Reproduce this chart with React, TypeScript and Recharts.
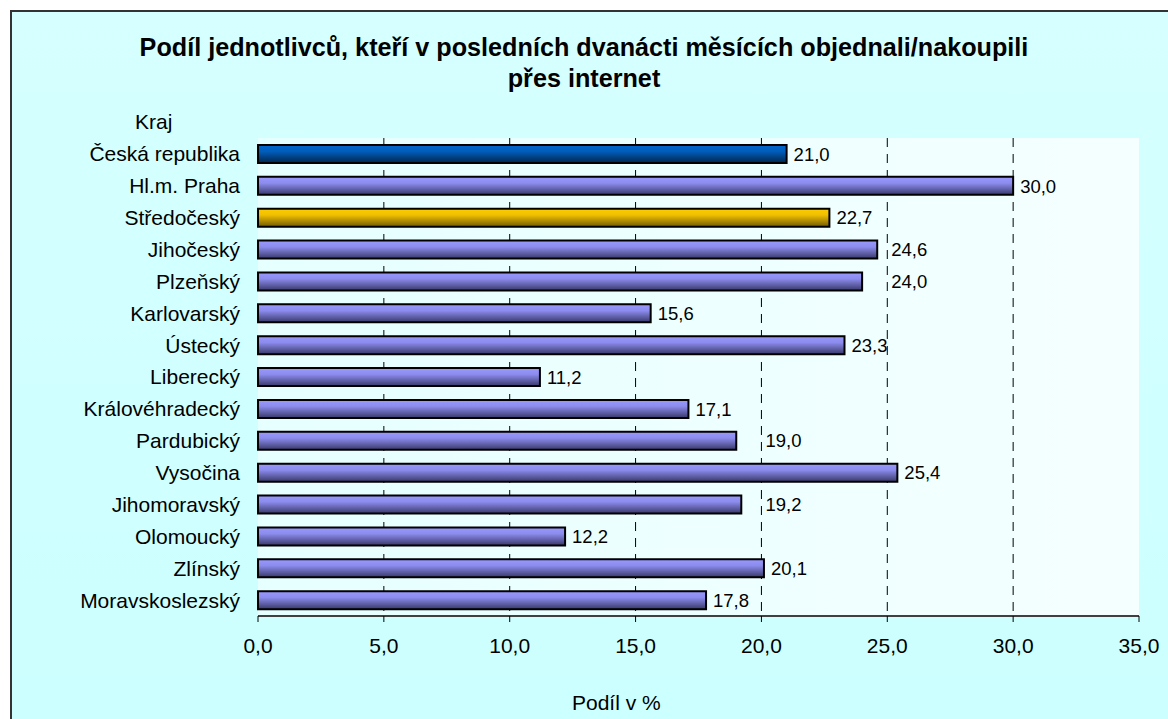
import React from 'react';
import { BarChart, Bar, XAxis, YAxis, CartesianGrid, Cell, LabelList } from 'recharts';

const categories = [
  'Česká republika', 'Hl.m. Praha', 'Středočeský', 'Jihočeský', 'Plzeňský', 'Karlovarský',
  'Ústecký', 'Liberecký', 'Královéhradecký', 'Pardubický', 'Vysočina', 'Jihomoravský',
  'Olomoucký', 'Zlínský', 'Moravskoslezský',
];
const values = [21.0, 30.0, 22.7, 24.6, 24.0, 15.6, 23.3, 11.2, 17.1, 19.0, 25.4, 19.2, 12.2, 20.1, 17.8];
const barKinds = ['cz', 'kraj', 'stc', 'kraj', 'kraj', 'kraj', 'kraj', 'kraj', 'kraj', 'kraj', 'kraj', 'kraj', 'kraj', 'kraj', 'kraj'];
const xTicks = [0, 5, 10, 15, 20, 25, 30, 35];
const gridValues = [5, 10, 15, 20, 25, 30];
const boundaryTicks = [0, 1, 2, 3, 4, 5, 6, 7, 8, 9, 10, 11, 12, 13, 14, 15];
const titleLines = ['Podíl jednotlivců, kteří v posledních dvanácti měsících objednali/nakoupili', 'přes internet'];

const data = categories.map((name, i) => ({ name, value: values[i], kind: barKinds[i] }));
const fillFor: Record<string, string> = { cz: 'url(#gCz)', kraj: 'url(#gKraj)', stc: 'url(#gStc)' };

const FONT = '"Liberation Sans", Arial, sans-serif';
const fmt = (v: number) => v.toFixed(1).replace('.', ',');

const ValueLabel = (props: any) => {
  const { x, y, width, height, value } = props;
  const perUnit = width / value;
  const labelW = 36;
  let start = x + width + 7;
  for (const g of gridValues) {
    const gx = x + g * perUnit;
    if (gx > start - 2 && gx < start + labelW - 3) start = gx + 4;
  }
  return (
    <text x={start} y={y + height / 2} dy="0.36em" fontFamily={FONT} fontSize={18.5} fill="#000">
      {fmt(value)}
    </text>
  );
};

export default function App() {
  return (
    <div style={{ position: 'absolute', left: 0, top: 0, width: 1168, height: 719, background: '#fff', overflow: 'hidden' }}>
      <div
        style={{
          position: 'absolute', left: 10, top: 10, width: 1180, height: 730, boxSizing: 'border-box',
          border: '2px solid #333', background: 'linear-gradient(#D6FFFF, #CCFFFF)',
        }}
      />
      <div style={{ position: 'absolute', left: 0, top: 0 }}>
        <BarChart
          width={1168}
          height={719}
          data={data}
          layout="vertical"
          margin={{ top: 138, right: 29, bottom: 63, left: 10 }}
          barSize={18}
        >
          <defs>
            <linearGradient id="plotBg" x1="0" y1="0" x2="1" y2="0">
              <stop offset="0%" stopColor="#E6FFFF" />
              <stop offset="100%" stopColor="#F5FFFF" />
            </linearGradient>
            <linearGradient id="gKraj" x1="0" y1="0" x2="0" y2="1">
              <stop offset="0%" stopColor="#9999FF" />
              <stop offset="35%" stopColor="#8C8CEE" />
              <stop offset="100%" stopColor="#38386A" />
            </linearGradient>
            <linearGradient id="gCz" x1="0" y1="0" x2="0" y2="1">
              <stop offset="0%" stopColor="#0066CC" />
              <stop offset="35%" stopColor="#005EBC" />
              <stop offset="100%" stopColor="#00264D" />
            </linearGradient>
            <linearGradient id="gStc" x1="0" y1="0" x2="0" y2="1">
              <stop offset="0%" stopColor="#FFCC00" />
              <stop offset="35%" stopColor="#F0BF00" />
              <stop offset="100%" stopColor="#705A00" />
            </linearGradient>
          </defs>
          <CartesianGrid
            horizontal={false}
            verticalValues={gridValues}
            stroke="#000"
            strokeDasharray="9 7"
            fill="url(#plotBg)"
            fillOpacity={1}
          />
          <XAxis
            type="number"
            domain={[0, 35]}
            ticks={xTicks}
            tickFormatter={fmt}
            height={40}
            tickSize={6}
            tickMargin={16}
            interval={0}
            axisLine={{ stroke: '#404040', strokeWidth: 2 }}
            tickLine={{ stroke: '#000' }}
            tick={{ fontFamily: FONT, fontSize: 21, fill: '#000' }}
          />
          <XAxis
            xAxisId="top"
            orientation="top"
            type="number"
            domain={[0, 35]}
            height={0}
            tick={false}
            tickLine={false}
            axisLine={{ stroke: '#888', strokeWidth: 2 }}
          />
          <YAxis
            yAxisId="bounds"
            orientation="left"
            type="number"
            domain={[0, 15]}
            ticks={boundaryTicks}
            interval={0}
            width={0}
            tick={false}
            tickSize={6}
            tickLine={{ stroke: '#000' }}
            axisLine={{ stroke: '#000', strokeWidth: 1 }}
          />
          <YAxis
            type="category"
            dataKey="name"
            width={248}
            interval={0}
            tickSize={0}
            tickMargin={18}
            tickLine={false}
            axisLine={false}
            tick={{ fontFamily: FONT, fontSize: 21, fill: '#000' }}
          />
          <YAxis
            yAxisId="right"
            orientation="right"
            type="number"
            domain={[0, 1]}
            width={0}
            tick={false}
            tickLine={false}
            axisLine={{ stroke: '#888', strokeWidth: 2 }}
          />
          <Bar dataKey="value" stroke="#000" strokeWidth={2} isAnimationActive={false}>
            {data.map((d, i) => (
              <Cell key={i} fill={fillFor[d.kind]} />
            ))}
            <LabelList dataKey="value" content={ValueLabel} />
          </Bar>
        </BarChart>
      </div>
      <svg width={1168} height={719} style={{ position: 'absolute', left: 0, top: 0, pointerEvents: 'none' }}>
        <text x={584} y={56} textAnchor="middle" fontFamily={FONT} fontWeight="bold" fontSize={25.2} fill="#000">
          {titleLines[0]}
        </text>
        <text x={584} y={87} textAnchor="middle" fontFamily={FONT} fontWeight="bold" fontSize={25.2} fill="#000">
          {titleLines[1]}
        </text>
        <text x={135} y={129} fontFamily={FONT} fontSize={21} fill="#000">Kraj</text>
        <text x={572} y={710} fontFamily={FONT} fontSize={21} fill="#000">Podíl v %</text>
      </svg>
    </div>
  );
}
